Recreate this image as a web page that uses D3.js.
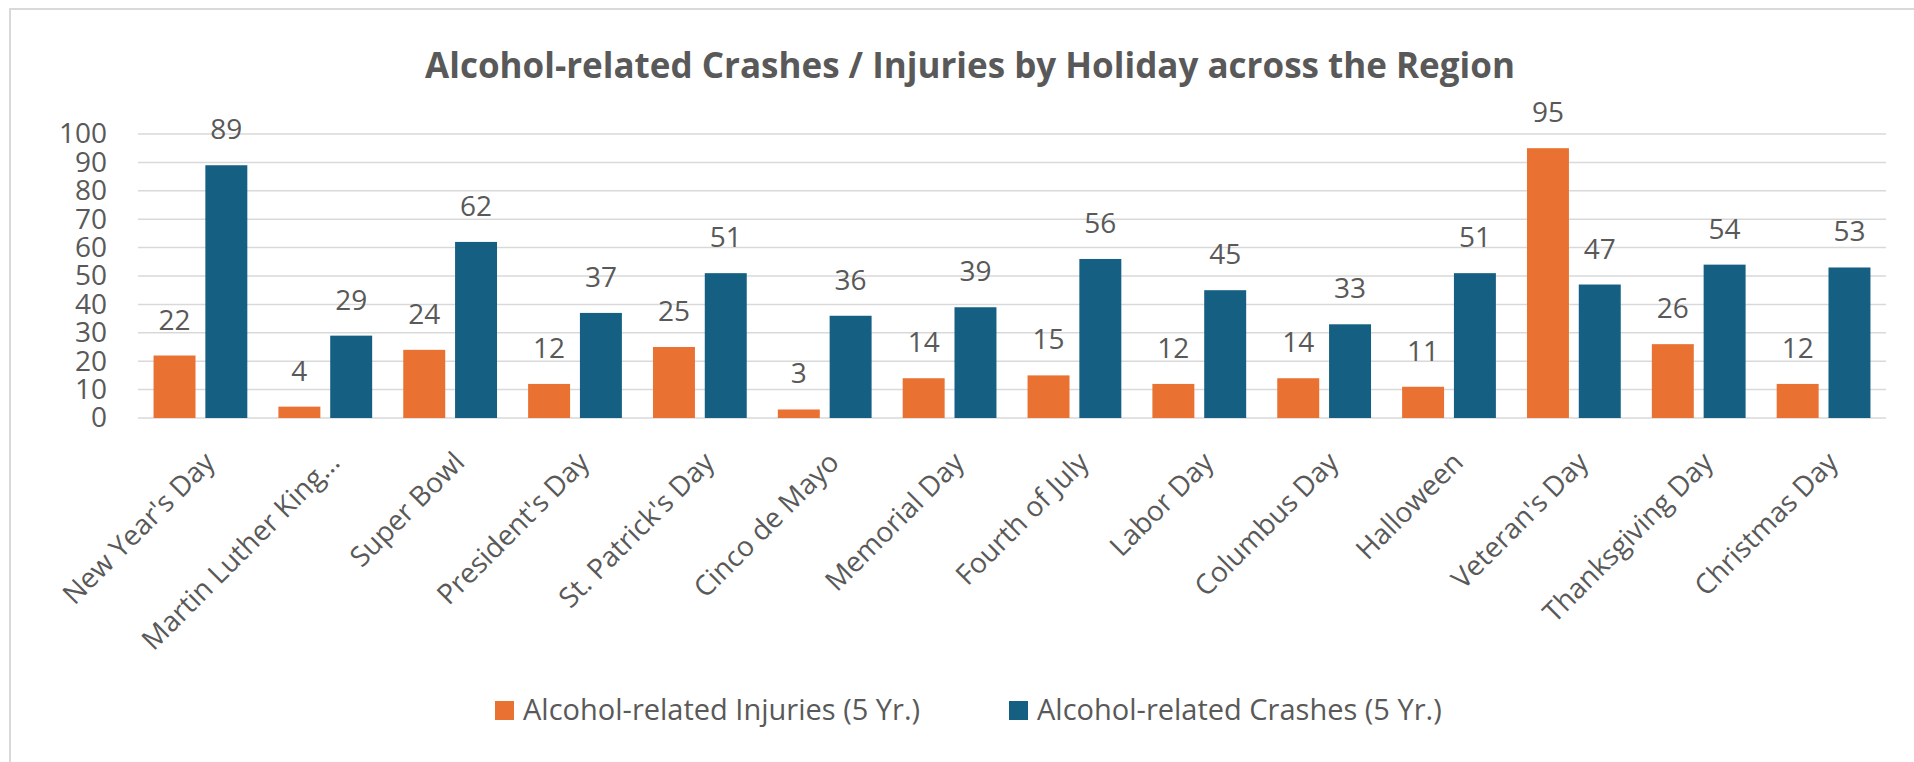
<!DOCTYPE html>
<html>
<head>
<meta charset="utf-8">
<script src="https://cdn.jsdelivr.net/npm/d3@7"></script>
<style>
  html, body { margin: 0; padding: 0; background: #fff; }
  svg { display: block; font-family: "Open Sans", sans-serif; }
</style>
</head>
<body>
<svg id="chart"></svg>
<script>
'use strict';

// data
const holidays = [
  "New Year's Day", "Martin Luther King…", "Super Bowl", "President's Day",
  "St. Patrick's Day", "Cinco de Mayo", "Memorial Day", "Fourth of July",
  "Labor Day", "Columbus Day", "Halloween", "Veteran's Day",
  "Thanksgiving Day", "Christmas Day"
];
const injuries = [22, 4, 24, 12, 25, 3, 14, 15, 12, 14, 11, 95, 26, 12];
const crashes = [89, 29, 62, 37, 51, 36, 39, 56, 45, 33, 51, 47, 54, 53];
const seriesNames = ["Alcohol-related Injuries (5 Yr.)", "Alcohol-related Crashes (5 Yr.)"];
const yTicks = [0, 10, 20, 30, 40, 50, 60, 70, 80, 90, 100];

const W = 1914, H = 762;
const COLORS = ["#E97132", "#156082"];
const TEXT = "#595959";
const GRID = "#D9D9D9";

const margin = { left: 138, right: 28, top: 134, bottom: 344 };

const svg = d3.select("#chart").attr("width", W).attr("height", H);

// chart border (only left and top edges show in the picture)
svg.append("path")
  .attr("d", `M10,${H} L10,9 L${W},9`)
  .attr("fill", "none")
  .attr("stroke", GRID)
  .attr("stroke-width", 2);

const x = d3.scaleBand()
  .domain(holidays)
  .range([margin.left, W - margin.right]);

const xSub = d3.scaleBand()
  .domain([0, 1])
  .range([0, x.bandwidth()])
  .paddingInner(0.19)
  .paddingOuter(0.3);

const y = d3.scaleLinear()
  .domain([0, 100])
  .range([H - margin.bottom, margin.top]);

// gridlines
svg.append("g")
  .selectAll("line")
  .data(yTicks)
  .join("line")
  .attr("x1", margin.left)
  .attr("x2", W - margin.right)
  .attr("y1", d => y(d))
  .attr("y2", d => y(d))
  .attr("stroke", GRID)
  .attr("stroke-width", 1.5);

// y axis labels
const yAxis = svg.append("g")
  .attr("transform", `translate(${margin.left - 31},0)`)
  .call(d3.axisLeft(y).tickValues(yTicks).tickSize(0).tickPadding(0));
yAxis.select(".domain").remove();
yAxis.selectAll("text")
  .attr("fill", TEXT)
  .style("font-size", "28px")
  .style("font-family", "'Open Sans', sans-serif");

// bars
const series = [injuries, crashes];
const groups = svg.append("g")
  .selectAll("g")
  .data(holidays)
  .join("g")
  .attr("transform", d => `translate(${x(d)},0)`);

groups.selectAll("rect")
  .data((d, i) => series.map((s, k) => ({ k, v: s[i] })))
  .join("rect")
  .attr("x", d => xSub(d.k))
  .attr("width", xSub.bandwidth())
  .attr("y", d => y(d.v))
  .attr("height", d => y(0) - y(d.v))
  .attr("fill", d => COLORS[d.k]);

// value labels
groups.selectAll("text")
  .data((d, i) => series.map((s, k) => ({ k, v: s[i] })))
  .join("text")
  .attr("x", d => xSub(d.k) + xSub.bandwidth() / 2)
  .attr("y", d => y(d.v) - 26)
  .attr("text-anchor", "middle")
  .attr("fill", TEXT)
  .style("font-size", "28px")
  .text(d => d.v);

// category labels, rotated
svg.append("g")
  .selectAll("text")
  .data(holidays)
  .join("text")
  .attr("transform", d => `translate(${x(d) + x.bandwidth() / 2 + 16},464) rotate(-45)`)
  .attr("text-anchor", "end")
  .attr("fill", TEXT)
  .style("font-size", "28px")
  .text(d => d);

// title
svg.append("text")
  .attr("x", 970)
  .attr("y", 78)
  .attr("text-anchor", "middle")
  .attr("fill", TEXT)
  .style("font-size", "35px")
  .style("font-weight", "bold")
  .text("Alcohol-related Crashes / Injuries by Holiday across the Region");

// legend
const legendX = [495, 1009];
const legend = svg.append("g")
  .selectAll("g")
  .data(seriesNames)
  .join("g")
  .attr("transform", (d, i) => `translate(${legendX[i]},701)`);
legend.append("rect")
  .attr("width", 19)
  .attr("height", 19)
  .attr("fill", (d, i) => COLORS[i]);
legend.append("text")
  .attr("x", 28)
  .attr("y", 19)
  .attr("fill", TEXT)
  .style("font-size", "29px")
  .text(d => d);
</script>
</body>
</html>
